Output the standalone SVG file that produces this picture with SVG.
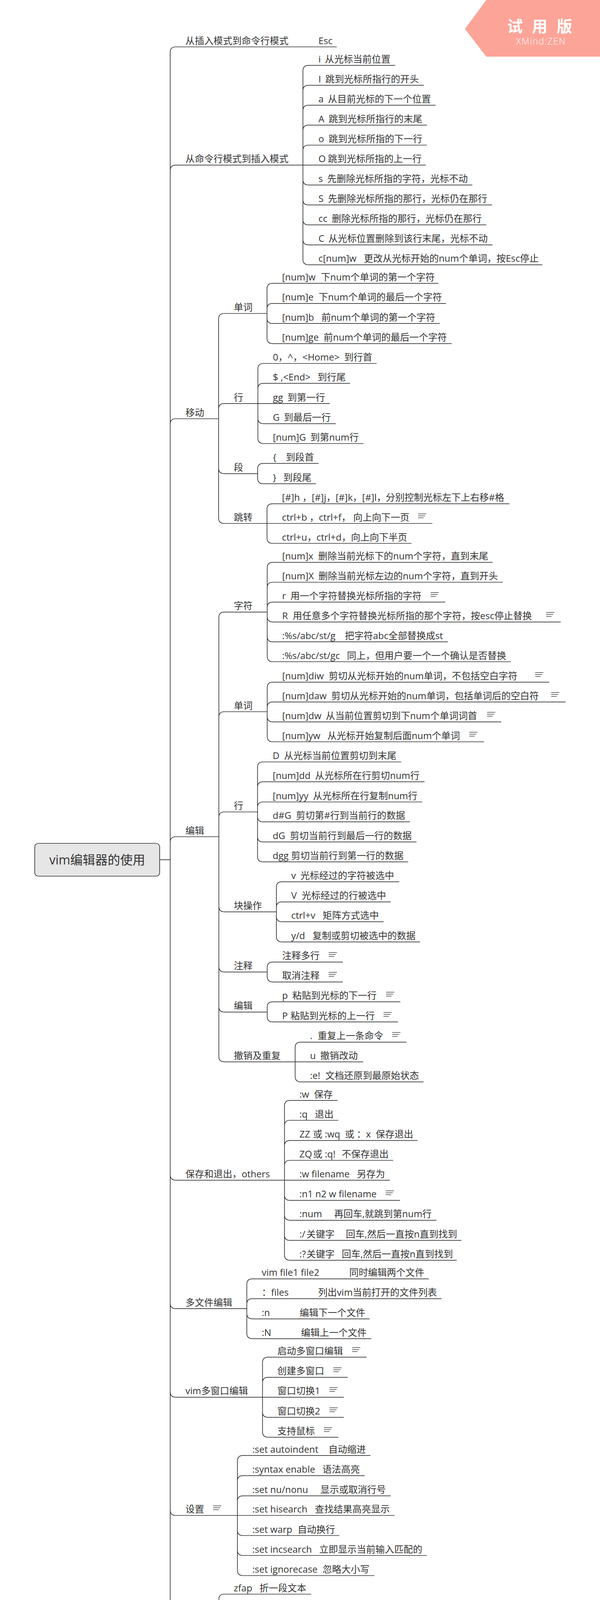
<svg xmlns="http://www.w3.org/2000/svg" width="1537" height="4371" viewBox="0 0 1537 4371" xml:space="preserve">
<style>
.t{font-family:"Open Sans","Noto Sans CJK SC",sans-serif;font-size:24px;fill:#333;white-space:pre}
.u{stroke:#333;stroke-width:1.7;fill:none}
.c{stroke:#333;stroke-width:1.7;fill:none}
.ic{stroke:#444;stroke-width:1.5;fill:none}
</style>
<defs>
<path id="note" class="ic" d="M0,-24.5h21M0,-19.5h18M0,-14.5h14"/>
</defs>
<rect width="1537" height="4371" fill="#fff"/>
<g id="watermark">
<polygon points="1245.7,0 1537,0 1537,145 1245.7,145 1191,74" fill="#fda498"/>
<text x="1299" y="82" font-family="'Noto Sans CJK SC',sans-serif" font-size="40" font-weight="bold" fill="#fff" textLength="167" lengthAdjust="spacing">试 用 版</text>
<text x="1322" y="114" font-family="'Open Sans',sans-serif" font-size="23" font-weight="300" fill="#fff" textLength="126" lengthAdjust="spacing">XMind:ZEN</text>
</g>
<g id="connectors">
<path class="c" d="M409,2200.8H436M436,2200.8V134Q436,120 450,120H463M436,2200.8V436.6Q436,422.6 450,422.6H463M436,2200.8V1086Q436,1072 450,1072H463M436,2200.8V2156Q436,2142 450,2142H463M436,2200.8V3007.3Q436,3021.3 450,3021.3H463M436,2200.8V3336.2Q436,3350.2 450,3350.2H463M436,2200.8V3562.8Q436,3576.8 450,3576.8H463M436,2200.8V3865.5Q436,3879.5 450,3879.5H463M436,2200.8V4144Q436,4158 450,4158H463M436,2200.8V4268Q436,4282 450,4282H463"/>
<path class="c" d="M751,120H803.7"/>
<path class="c" d="M751,422.6H776M776,422.6V181.3Q776,167.3 790,167.3H803.7M776,422.6V232.3Q776,218.3 790,218.3H803.7M776,422.6V283.3Q776,269.3 790,269.3H803.7M776,422.6V334.4Q776,320.4 790,320.4H803.7M776,422.6V385.5Q776,371.5 790,371.5H803.7M776,422.6H803.7M776,422.6V459.6Q776,473.6 790,473.6H803.7M776,422.6V510.7Q776,524.7 790,524.7H803.7M776,422.6V561.7Q776,575.7 790,575.7H803.7M776,422.6V612.8Q776,626.8 790,626.8H803.7M776,422.6V663.8Q776,677.8 790,677.8H803.7"/>
<path class="c" d="M535,1072H560M560,1072V816.5Q560,802.5 574,802.5H587M560,1072V1047.2Q560,1033.2 574,1033.2H587M560,1072V1198.6Q560,1212.6 574,1212.6H587M560,1072V1326Q560,1340 574,1340H587"/>
<path class="c" d="M659,802.5H684M684,802.5V739.4Q684,725.4 698,725.4H710.5M684,802.5V790.8Q684,776.8 698,776.8H710.5M684,802.5V814.2Q684,828.2 698,828.2H710.5M684,802.5V865.6Q684,879.6 698,879.6H710.5"/>
<path class="c" d="M635,1033.2H660.6M660.6,1033.2V944.5Q660.6,930.5 674.6,930.5H687M660.6,1033.2V995.4Q660.6,981.4 674.6,981.4H687M660.6,1033.2H687M660.6,1033.2V1070.6Q660.6,1084.6 674.6,1084.6H687M660.6,1033.2V1121.5Q660.6,1135.5 674.6,1135.5H687"/>
<path class="c" d="M635,1212.6H660M660,1212.6V1200.4Q660,1186.4 674,1186.4H687M660,1212.6V1224.3Q660,1238.3 674,1238.3H687"/>
<path class="c" d="M659,1340H684M684,1340V1303.7Q684,1289.7 698,1289.7H710.3M684,1340H710.3M684,1340V1377Q684,1391 698,1391H710.3"/>
<path class="c" d="M535,2142H560.6M560.6,2142V1580.8Q560.6,1566.8 574.6,1566.8H587M560.6,2142V1836Q560.6,1822 574.6,1822H587M560.6,2142V2092.5Q560.6,2078.5 574.6,2078.5H587M560.6,2142V2320.3Q560.6,2334.3 574.6,2334.3H587M560.6,2142V2474.3Q560.6,2488.3 574.6,2488.3H587M560.6,2142V2576.8Q560.6,2590.8 574.6,2590.8H587M560.6,2142V2704.3Q560.6,2718.3 574.6,2718.3H587"/>
<path class="c" d="M659,1566.8H684.5M684.5,1566.8V1453.6Q684.5,1439.6 698.5,1439.6H710.7M684.5,1566.8V1504.5Q684.5,1490.5 698.5,1490.5H710.7M684.5,1566.8V1555.4Q684.5,1541.4 698.5,1541.4H710.7M684.5,1566.8V1578.3Q684.5,1592.3 698.5,1592.3H710.7M684.5,1566.8V1629.2Q684.5,1643.2 698.5,1643.2H710.7M684.5,1566.8V1680Q684.5,1694 698.5,1694H710.7"/>
<path class="c" d="M659,1822H684.5M684.5,1822V1760.3Q684.5,1746.3 698.5,1746.3H710.7M684.5,1822V1811.2Q684.5,1797.2 698.5,1797.2H710.7M684.5,1822V1834.1Q684.5,1848.1 698.5,1848.1H710.7M684.5,1822V1885Q684.5,1899 698.5,1899H710.7"/>
<path class="c" d="M635,2078.5H659.7M659.7,2078.5V1964.5Q659.7,1950.5 673.7,1950.5H686.6M659.7,2078.5V2015.4Q659.7,2001.4 673.7,2001.4H686.6M659.7,2078.5V2067Q659.7,2053 673.7,2053H686.6M659.7,2078.5V2089.9Q659.7,2103.9 673.7,2103.9H686.6M659.7,2078.5V2141.4Q659.7,2155.4 673.7,2155.4H686.6M659.7,2078.5V2192.4Q659.7,2206.4 673.7,2206.4H686.6"/>
<path class="c" d="M683,2334.3H708M708,2334.3V2271.3Q708,2257.3 722,2257.3H734M708,2334.3V2322.8Q708,2308.8 722,2308.8H734M708,2334.3V2345.7Q708,2359.7 722,2359.7H734M708,2334.3V2397.3Q708,2411.3 722,2411.3H734"/>
<path class="c" d="M659,2488.3H684.5M684.5,2488.3V2476.9Q684.5,2462.9 698.5,2462.9H710.7M684.5,2488.3V2499.8Q684.5,2513.8 698.5,2513.8H710.7"/>
<path class="c" d="M659,2590.8H684.5M684.5,2590.8V2578.6Q684.5,2564.6 698.5,2564.6H710.7M684.5,2590.8V2602.2Q684.5,2616.2 698.5,2616.2H710.7"/>
<path class="c" d="M731,2718.3H756M756,2718.3V2681.8Q756,2667.8 770,2667.8H782.3M756,2718.3H782.3M756,2718.3V2755.6Q756,2769.6 770,2769.6H782.3"/>
<path class="c" d="M703.6,3021.3H728.7M728.7,3021.3V2831.1Q728.7,2817.1 742.7,2817.1H754.9M728.7,3021.3V2882Q728.7,2868 742.7,2868H754.9M728.7,3021.3V2933.6Q728.7,2919.6 742.7,2919.6H754.9M728.7,3021.3V2984.5Q728.7,2970.5 742.7,2970.5H754.9M728.7,3021.3H754.9M728.7,3021.3V3058.9Q728.7,3072.9 742.7,3072.9H754.9M728.7,3021.3V3109.8Q728.7,3123.8 742.7,3123.8H754.9M728.7,3021.3V3161.4Q728.7,3175.4 742.7,3175.4H754.9M728.7,3021.3V3212.3Q728.7,3226.3 742.7,3226.3H754.9"/>
<path class="c" d="M607,3350.2H632.3M632.3,3350.2V3287.8Q632.3,3273.8 646.3,3273.8H658.4M632.3,3350.2V3338.7Q632.3,3324.7 646.3,3324.7H658.4M632.3,3350.2V3362.3Q632.3,3376.3 646.3,3376.3H658.4M632.3,3350.2V3413.1Q632.3,3427.1 646.3,3427.1H658.4"/>
<path class="c" d="M647,3576.8H672.5M672.5,3576.8V3488.4Q672.5,3474.4 686.5,3474.4H698.6M672.5,3576.8V3539.9Q672.5,3525.9 686.5,3525.9H698.6M672.5,3576.8H698.6M672.5,3576.8V3614.4Q672.5,3628.4 686.5,3628.4H698.6M672.5,3576.8V3665.3Q672.5,3679.3 686.5,3679.3H698.6"/>
<path class="c" d="M583,3879.5H608.2M608.2,3879.5V3740.1Q608.2,3726.1 622.2,3726.1H634.3M608.2,3879.5V3791.7Q608.2,3777.7 622.2,3777.7H634.3M608.2,3879.5V3843.3Q608.2,3829.3 622.2,3829.3H634.3M608.2,3879.5H634.3M608.2,3879.5V3917Q608.2,3931 622.2,3931H634.3M608.2,3879.5V3968Q608.2,3982 622.2,3982H634.3M608.2,3879.5V4019.5Q608.2,4033.5 622.2,4033.5H634.3"/>
<path class="c" d="M535,4158H560.6M560.6,4158V4095Q560.6,4081 574.6,4081H586.8M560.6,4158V4146Q560.6,4132 574.6,4132H586.8M560.6,4158V4169.5Q560.6,4183.5 574.6,4183.5H586.8M560.6,4158V4220.4Q560.6,4234.4 574.6,4234.4H586.8"/>
</g>
<g id="root">
<rect x="89" y="2159" width="320" height="84" rx="9" fill="#e6e6e6" stroke="#333" stroke-width="1.7"/>
<text class="t" x="249" y="2213" style="font-size:32px" text-anchor="middle">vim编辑器的使用</text>
</g>
<g id="n1"><path class="u" d="M463,120H751"/><text class="t" x="475" y="112.5">从插入模式到命令行模式</text></g>
<g id="n1-1"><path class="u" d="M803.7,120H862.7"/><text class="t" x="815.7" y="112.5">Esc</text></g>
<g id="n2"><path class="u" d="M463,422.6H751"/><text class="t" x="475" y="415.1">从命令行模式到插入模式</text></g>
<g id="n2-1"><path class="u" d="M803.7,167.3H1012.4"/><text class="t" x="815.7" y="159.8">i  <tspan x="832.3">从光标当前位置</tspan></text></g>
<g id="n2-2"><path class="u" d="M803.7,218.3H1086.2"/><text class="t" x="815.7" y="210.8">I  <tspan x="833.3">跳到光标所指行的开头</tspan></text></g>
<g id="n2-3"><path class="u" d="M803.7,269.3H1115.7"/><text class="t" x="815.7" y="261.8">a  <tspan x="840">从目前光标的下一个位置</tspan></text></g>
<g id="n2-4"><path class="u" d="M803.7,320.4H1093.5"/><text class="t" x="815.7" y="312.9">A  <tspan x="841.7">跳到光标所指行的末尾</tspan></text></g>
<g id="n2-5"><path class="u" d="M803.7,371.5H1093.5"/><text class="t" x="815.7" y="364">o  <tspan x="841.7">跳到光标所指的下一行</tspan></text></g>
<g id="n2-6"><path class="u" d="M803.7,422.6H1090.6"/><text class="t" x="815.7" y="415.1">O <tspan x="840">跳到光标所指的上一行</tspan></text></g>
<g id="n2-7"><path class="u" d="M803.7,473.6H1210"/><text class="t" x="815.7" y="466.1">s  <tspan x="838.3">先删除光标所指的字符，光标不动</tspan></text></g>
<g id="n2-8"><path class="u" d="M803.7,524.7H1260.3"/><text class="t" x="815.7" y="517.2">S  <tspan x="840">先删除光标所指的那行，光标仍在那行</tspan></text></g>
<g id="n2-9"><path class="u" d="M803.7,575.7H1245.5"/><text class="t" x="815.7" y="568.2">cc  <tspan x="850">删除光标所指的那行，光标仍在那行</tspan></text></g>
<g id="n2-10"><path class="u" d="M803.7,626.8H1261.8"/><text class="t" x="815.7" y="619.3">C  <tspan x="841.2">从光标位置删除到该行末尾，光标不动</tspan></text></g>
<g id="n2-11"><path class="u" d="M803.7,677.8H1389.4"/><text class="t" x="815.7" y="670.3">c[num]w   <tspan x="932">更改从光标开始的num个单词，按Esc停止</tspan></text></g>
<g id="n3"><path class="u" d="M463,1072H535"/><text class="t" x="475" y="1064.5">移动</text></g>
<g id="n3a"><path class="u" d="M587,802.5H659"/><text class="t" x="599" y="795">单词</text></g>
<g id="n3a-1"><path class="u" d="M710.5,725.4H1123"/><text class="t" x="722.5" y="717.9">[num]w  <tspan x="822">下num个单词的第一个字符</tspan></text></g>
<g id="n3a-2"><path class="u" d="M710.5,776.8H1142.5"/><text class="t" x="722.5" y="769.3">[num]e  <tspan x="816.3">下num个单词的最后一个字符</tspan></text></g>
<g id="n3a-3"><path class="u" d="M710.5,828.2H1127"/><text class="t" x="722.5" y="820.7">[num]b   <tspan x="823.4">前num个单词的第一个字符</tspan></text></g>
<g id="n3a-4"><path class="u" d="M710.5,879.6H1157"/><text class="t" x="722.5" y="872.1">[num]ge  <tspan x="829">前num个单词的最后一个字符</tspan></text></g>
<g id="n3b"><path class="u" d="M587,1033.2H635"/><text class="t" x="599" y="1025.7">行</text></g>
<g id="n3b-1"><path class="u" d="M687,930.5H965"/><text class="t" x="699" y="923">0，^，&lt;Home&gt; <tspan x="881.6">到行首</tspan></text></g>
<g id="n3b-2"><path class="u" d="M687,981.4H897"/><text class="t" x="699" y="973.9">$ ,&lt;End&gt;  <tspan x="813.5">到行尾</tspan></text></g>
<g id="n3b-3"><path class="u" d="M687,1033.2H845"/><text class="t" x="699" y="1025.7">gg  <tspan x="736.4">到第一行</tspan></text></g>
<g id="n3b-4"><path class="u" d="M687,1084.6H860.5"/><text class="t" x="699" y="1077.1">G  <tspan x="727.2">到最后一行</tspan></text></g>
<g id="n3b-5"><path class="u" d="M687,1135.5H931"/><text class="t" x="699" y="1128">[num]G  <tspan x="795.3">到第num行</tspan></text></g>
<g id="n3c"><path class="u" d="M587,1212.6H635"/><text class="t" x="599" y="1205.1">段</text></g>
<g id="n3c-1"><path class="u" d="M687,1186.4H816"/><text class="t" x="699" y="1178.9">{    <tspan x="732.2">到段首</tspan></text></g>
<g id="n3c-2"><path class="u" d="M687,1238.3H809"/><text class="t" x="699" y="1230.8">}   <tspan x="725.8">到段尾</tspan></text></g>
<g id="n3d"><path class="u" d="M587,1340H659"/><text class="t" x="599" y="1332.5">跳转</text></g>
<g id="n3d-1"><path class="u" d="M710.3,1289.7H1305"/><text class="t" x="722.3" y="1282.2">[#]h ，[#]j，[#]k，[#]l，<tspan x="988.2">分别控制光标左下上右移#格</tspan></text></g>
<g id="n3d-2"><path class="u" d="M710.3,1340H1107.5"/><text class="t" x="722.3" y="1332.5">ctrl+b ，ctrl+f，<tspan x="904.7">向上向下一页</tspan></text><use href="#note" x="1071" y="1340"/></g>
<g id="n3d-3"><path class="u" d="M710.3,1391H1054"/><text class="t" x="722.3" y="1383.5">ctrl+u，ctrl+d，向上向下半页</text></g>
<g id="n4"><path class="u" d="M463,2142H535"/><text class="t" x="475" y="2134.5">编辑</text></g>
<g id="n4a"><path class="u" d="M587,1566.8H659"/><text class="t" x="599" y="1559.3">字符</text></g>
<g id="n4a-1"><path class="u" d="M710.7,1439.6H1262"/><text class="t" x="722.7" y="1432.1">[num]x  <tspan x="815">删除当前光标下的num个字符，直到末尾</tspan></text></g>
<g id="n4a-2"><path class="u" d="M710.7,1490.5H1288"/><text class="t" x="722.7" y="1483">[num]X  <tspan x="815.8">删除当前光标左边的num个字符，直到开头</tspan></text></g>
<g id="n4a-3"><path class="u" d="M710.7,1541.4H1140.5"/><text class="t" x="722.7" y="1533.9">r  <tspan x="744">用一个字符替换光标所指的字符</tspan></text><use href="#note" x="1103" y="1541.4"/></g>
<g id="n4a-4"><path class="u" d="M710.7,1592.3H1436.5"/><text class="t" x="722.7" y="1584.8">R  <tspan x="750">用任意多个字符替换光标所指的那个字符，按esc停止替换</tspan></text><use href="#note" x="1399" y="1592.3"/></g>
<g id="n4a-5"><path class="u" d="M710.7,1643.2H1147"/><text class="t" x="722.7" y="1635.7">:%s/abc/st/g   <tspan x="883.4">把字符abc全部替换成st</tspan></text></g>
<g id="n4a-6"><path class="u" d="M710.7,1694H1309"/><text class="t" x="722.7" y="1686.5">:%s/abc/st/gc  <tspan x="888.8">同上，但用户要一个一个确认是否替换</tspan></text></g>
<g id="n4b"><path class="u" d="M587,1822H659"/><text class="t" x="599" y="1814.5">单词</text></g>
<g id="n4b-1"><path class="u" d="M710.7,1746.3H1407"/><text class="t" x="722.7" y="1738.8">[num]diw  <tspan x="841.9">剪切从光标开始的num单词，不包括空白字符</tspan></text><use href="#note" x="1371" y="1746.3"/></g>
<g id="n4b-2"><path class="u" d="M710.7,1797.2H1449"/><text class="t" x="722.7" y="1789.7">[num]daw  <tspan x="848.6">剪切从光标开始的num单词，包括单词后的空白符</tspan></text><use href="#note" x="1412" y="1797.2"/></g>
<g id="n4b-3"><path class="u" d="M710.7,1848.1H1284"/><text class="t" x="722.7" y="1840.6">[num]dw  <tspan x="834.5">从当前位置剪切到下num个单词词首</tspan></text><use href="#note" x="1247.7" y="1848.1"/></g>
<g id="n4b-4"><path class="u" d="M710.7,1899H1240"/><text class="t" x="722.7" y="1891.5">[num]yw   <tspan x="838.5">从光标开始复制后面num个单词</tspan></text><use href="#note" x="1202" y="1899"/></g>
<g id="n4c"><path class="u" d="M587,2078.5H635"/><text class="t" x="599" y="2071">行</text></g>
<g id="n4c-1"><path class="u" d="M686.6,1950.5H1028"/><text class="t" x="698.6" y="1943">D  <tspan x="727.4">从光标当前位置剪切到末尾</tspan></text></g>
<g id="n4c-2"><path class="u" d="M686.6,2001.4H1087.6"/><text class="t" x="698.6" y="1993.9">[num]dd  <tspan x="807">从光标所在行剪切num行</tspan></text></g>
<g id="n4c-3"><path class="u" d="M686.6,2053H1081.6"/><text class="t" x="698.6" y="2045.5">[num]yy  <tspan x="801.7">从光标所在行复制num行</tspan></text></g>
<g id="n4c-4"><path class="u" d="M686.6,2103.9H1050"/><text class="t" x="698.6" y="2096.4">d#G  <tspan x="758.2">剪切第#行到当前行的数据</tspan></text></g>
<g id="n4c-5"><path class="u" d="M686.6,2155.4H1067"/><text class="t" x="698.6" y="2147.9">dG  <tspan x="742.8">剪切当前行到最后一行的数据</tspan></text></g>
<g id="n4c-6"><path class="u" d="M686.6,2206.4H1045.5"/><text class="t" x="698.6" y="2198.9">dgg <tspan x="745.5">剪切当前行到第一行的数据</tspan></text></g>
<g id="n4d"><path class="u" d="M587,2334.3H683"/><text class="t" x="599" y="2326.8">块操作</text></g>
<g id="n4d-1"><path class="u" d="M734,2257.3H1022.7"/><text class="t" x="746" y="2249.8">v  <tspan x="769.6">光标经过的字符被选中</tspan></text></g>
<g id="n4d-2"><path class="u" d="M734,2308.8H1000.6"/><text class="t" x="746" y="2301.3">V  <tspan x="773">光标经过的行被选中</tspan></text></g>
<g id="n4d-3"><path class="u" d="M734,2359.7H982.5"/><text class="t" x="746" y="2352.2">ctrl+v   <tspan x="826.5">矩阵方式选中</tspan></text></g>
<g id="n4d-4"><path class="u" d="M734,2411.3H1076"/><text class="t" x="746" y="2403.8">y/d   <tspan x="800.4">复制或剪切被选中的数据</tspan></text></g>
<g id="n4e"><path class="u" d="M587,2488.3H659"/><text class="t" x="599" y="2480.8">注释</text></g>
<g id="n4e-1"><path class="u" d="M710.7,2462.9H878"/><text class="t" x="722.7" y="2455.4">注释多行</text><use href="#note" x="842" y="2462.9"/></g>
<g id="n4e-2"><path class="u" d="M710.7,2513.8H878"/><text class="t" x="722.7" y="2506.3">取消注释</text><use href="#note" x="842" y="2513.8"/></g>
<g id="n4f"><path class="u" d="M587,2590.8H659"/><text class="t" x="599" y="2583.3">编辑</text></g>
<g id="n4f-1"><path class="u" d="M710.7,2564.6H1025.4"/><text class="t" x="722.7" y="2557.1">p  <tspan x="748.8">粘贴到光标的下一行</tspan></text><use href="#note" x="989" y="2564.6"/></g>
<g id="n4f-2"><path class="u" d="M710.7,2616.2H1019.3"/><text class="t" x="722.7" y="2608.7">P <tspan x="744">粘贴到光标的上一行</tspan></text><use href="#note" x="982.5" y="2616.2"/></g>
<g id="n4g"><path class="u" d="M587,2718.3H731"/><text class="t" x="599" y="2710.8">撤销及重复</text></g>
<g id="n4g-1"><path class="u" d="M782.3,2667.8H1041.4"/><text class="t" x="794.3" y="2660.3">.  <tspan x="813.8">重复上一条命令</tspan></text><use href="#note" x="1004.6" y="2667.8"/></g>
<g id="n4g-2"><path class="u" d="M782.3,2718.3H930.3"/><text class="t" x="794.3" y="2710.8">u  <tspan x="820.5">撤销改动</tspan></text></g>
<g id="n4g-3"><path class="u" d="M782.3,2769.6H1085"/><text class="t" x="794.3" y="2762.1">:e!  <tspan x="833.2">文档还原到最原始状态</tspan></text></g>
<g id="n5"><path class="u" d="M463,3021.3H703.6"/><text class="t" x="475" y="3013.8">保存和退出，others</text></g>
<g id="n5-1"><path class="u" d="M754.9,2817.1H864.7"/><text class="t" x="766.9" y="2809.6">:w  <tspan x="804.4">保存</tspan></text></g>
<g id="n5-2"><path class="u" d="M754.9,2868H866.7"/><text class="t" x="766.9" y="2860.5">:q  <tspan x="806.4">退出</tspan></text></g>
<g id="n5-3"><path class="u" d="M754.9,2919.6H1069.6"/><text class="t" x="766.9" y="2912.1">ZZ <tspan x="801.7">或 :wq </tspan><tspan x="883.4">或 ：x </tspan><tspan x="962.4">保存退出</tspan></text></g>
<g id="n5-4"><path class="u" d="M754.9,2970.5H1007.3"/><text class="t" x="766.9" y="2963">ZQ<tspan x="801.7">或 :q!  </tspan><tspan x="875.4">不保存退出</tspan></text></g>
<g id="n5-5"><path class="u" d="M754.9,3021.3H998.6"/><text class="t" x="766.9" y="3013.8">:w filename  <tspan x="914.2">另存为</tspan></text></g>
<g id="n5-6"><path class="u" d="M754.9,3072.9H1024.7"/><text class="t" x="766.9" y="3065.4">:n1 n2 w filename</text><use href="#note" x="987.9" y="3072.9"/></g>
<g id="n5-7"><path class="u" d="M754.9,3123.8H1117.8"/><text class="t" x="766.9" y="3116.3">:num    <tspan x="856">再回车,就跳到第num行</tspan></text></g>
<g id="n5-8"><path class="u" d="M754.9,3175.4H1182"/><text class="t" x="766.9" y="3167.9">:/<tspan x="785">关键字    </tspan><tspan x="886.1">回车,然后一直按n直到找到</tspan></text></g>
<g id="n5-9"><path class="u" d="M754.9,3226.3H1170"/><text class="t" x="766.9" y="3218.8">:?<tspan x="785">关键字  </tspan><tspan x="875.4">回车,然后一直按n直到找到</tspan></text></g>
<g id="n6"><path class="u" d="M463,3350.2H607"/><text class="t" x="475" y="3342.7">多文件编辑</text></g>
<g id="n6-1"><path class="u" d="M658.4,3273.8H1098.4"/><text class="t" x="670.4" y="3266.3">vim file1 file2          <tspan x="894.8">同时编辑两个文件</tspan></text></g>
<g id="n6-2"><path class="u" d="M658.4,3324.7H1131"/><text class="t" x="670.4" y="3317.2">：files          <tspan x="815.1">列出vim当前打开的文件列表</tspan></text></g>
<g id="n6-3"><path class="u" d="M658.4,3376.3H947"/><text class="t" x="670.4" y="3368.8">:n           <tspan x="767.6">编辑下一个文件</tspan></text></g>
<g id="n6-4"><path class="u" d="M658.4,3427.1H951"/><text class="t" x="670.4" y="3419.6">:N           <tspan x="770.9">编辑上一个文件</tspan></text></g>
<g id="n7"><path class="u" d="M463,3576.8H647"/><text class="t" x="475" y="3569.3">vim多窗口编辑</text></g>
<g id="n7-1"><path class="u" d="M698.6,3474.4H939"/><text class="t" x="710.6" y="3466.9">启动多窗口编辑</text><use href="#note" x="902" y="3474.4"/></g>
<g id="n7-2"><path class="u" d="M698.6,3525.9H890.8"/><text class="t" x="710.6" y="3518.4">创建多窗口</text><use href="#note" x="854" y="3525.9"/></g>
<g id="n7-3"><path class="u" d="M698.6,3576.8H880.7"/><text class="t" x="710.6" y="3569.3">窗口切换1</text><use href="#note" x="844" y="3576.8"/></g>
<g id="n7-4"><path class="u" d="M698.6,3628.4H880.7"/><text class="t" x="710.6" y="3620.9">窗口切换2</text><use href="#note" x="844" y="3628.4"/></g>
<g id="n7-5"><path class="u" d="M698.6,3679.3H866.7"/><text class="t" x="710.6" y="3671.8">支持鼠标</text><use href="#note" x="829.8" y="3679.3"/></g>
<g id="n8"><path class="u" d="M463,3879.5H583"/><text class="t" x="475" y="3872">设置</text><use href="#note" x="546" y="3879.5"/></g>
<g id="n8-1"><path class="u" d="M634.3,3726.1H949"/><text class="t" x="646.3" y="3718.6">:set autoindent    <tspan x="841.2">自动缩进</tspan></text></g>
<g id="n8-2"><path class="u" d="M634.3,3777.7H934.3"/><text class="t" x="646.3" y="3770.2">:syntax enable   <tspan x="825.8">语法高亮</tspan></text></g>
<g id="n8-3"><path class="u" d="M634.3,3829.3H1000.6"/><text class="t" x="646.3" y="3821.8">:set nu/nonu     <tspan x="820.5">显示或取消行号</tspan></text></g>
<g id="n8-4"><path class="u" d="M634.3,3879.5H1010.6"/><text class="t" x="646.3" y="3872">:set hisearch   <tspan x="806.4">查找结果高亮显示</tspan></text></g>
<g id="n8-5"><path class="u" d="M634.3,3931H869.3"/><text class="t" x="646.3" y="3923.5">:set warp  <tspan x="762.2">自动换行</tspan></text></g>
<g id="n8-6"><path class="u" d="M634.3,3982H1093.7"/><text class="t" x="646.3" y="3974.5">:set incsearch   <tspan x="817.8">立即显示当前输入匹配的</tspan></text></g>
<g id="n8-7"><path class="u" d="M634.3,4033.5H959"/><text class="t" x="646.3" y="4026">:set ignorecase  <tspan x="826.5">忽略大小写</tspan></text></g>
<g id="n9"><path class="u" d="M463,4158H535"/><text class="t" x="475" y="4150.5">折行</text></g>
<g id="n9-1"><path class="u" d="M586.8,4081H797"/><text class="t" x="598.8" y="4073.5">zfap   <tspan x="664.4">折一段文本</tspan></text></g>
<g id="n9-2"><path class="u" d="M586.8,4132H738"/><text class="t" x="598.8" y="4124.5">zf  <tspan x="629.6">创建折行</tspan></text></g>
<g id="n9-3"><path class="u" d="M586.8,4183.5H744"/><text class="t" x="598.8" y="4176">zo  <tspan x="636.3">打开折行</tspan></text></g>
<g id="n9-4"><path class="u" d="M586.8,4234.4H742"/><text class="t" x="598.8" y="4226.9">zc  <tspan x="633">关闭折行</tspan></text></g>
<g id="n10"><path class="u" d="M463,4282H582"/><text class="t" x="475" y="4274.5">文本替换</text></g>
</svg>
